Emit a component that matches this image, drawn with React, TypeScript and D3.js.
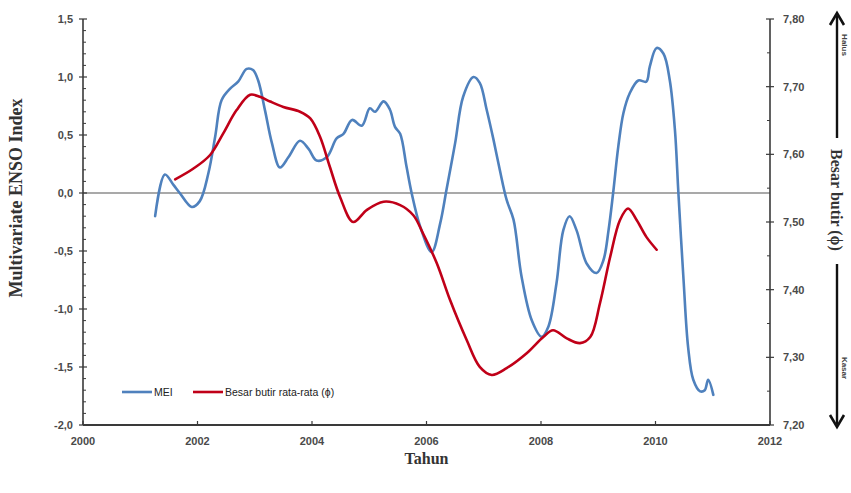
import React from "react";
import * as d3 from "d3";

// Multivariate ENSO Index (left axis)
const meiYears = [
  2001.26, 2001.43, 2001.58, 2001.69, 2001.9, 2002.04, 2002.19, 2002.31, 2002.42, 2002.57,
  2002.71, 2002.86, 2002.97, 2003.06, 2003.18, 2003.3, 2003.44, 2003.59, 2003.79, 2003.94,
  2004.08, 2004.26, 2004.43, 2004.55, 2004.7, 2004.87, 2005.01, 2005.1, 2005.25, 2005.36,
  2005.45, 2005.54, 2005.65, 2005.74, 2005.89, 2006.09, 2006.24, 2006.35, 2006.5, 2006.64,
  2006.82, 2006.93, 2007.05, 2007.17, 2007.28, 2007.4, 2007.52, 2007.66, 2007.84, 2008.01,
  2008.13, 2008.27, 2008.39, 2008.5, 2008.62, 2008.8, 2008.97, 2009.09, 2009.18, 2009.26,
  2009.35, 2009.44, 2009.55, 2009.7, 2009.84, 2009.9, 2010.02, 2010.14, 2010.25, 2010.34,
  2010.4, 2010.49, 2010.57, 2010.66, 2010.78, 2010.86, 2010.92, 2011.01,
];
const meiValues = [
  -0.2, 0.16, 0.07, 0.0, -0.12, -0.07, 0.17, 0.49, 0.8, 0.9,
  0.96, 1.07, 1.06, 0.97, 0.71, 0.43, 0.22, 0.31, 0.45, 0.38,
  0.28, 0.31, 0.47, 0.51, 0.63, 0.58, 0.73, 0.7, 0.79, 0.72,
  0.57, 0.51, 0.23, 0.0, -0.29, -0.51, -0.26, 0.03, 0.43, 0.83,
  1.0, 0.95, 0.72, 0.46, 0.2, -0.06, -0.23, -0.72, -1.1, -1.24,
  -1.15, -0.78, -0.32, -0.2, -0.32, -0.61, -0.69, -0.58, -0.32, 0.0,
  0.4, 0.69, 0.86, 0.97, 0.96, 1.09, 1.25, 1.2, 0.97, 0.54,
  0.0, -0.75, -1.33, -1.61, -1.71, -1.7, -1.61, -1.74,
];

// Mean grain size in phi units (right axis)
const grainYears = [
  2001.61, 2001.93, 2002.22, 2002.45, 2002.68, 2002.92, 2003.09, 2003.27, 2003.5, 2003.79,
  2003.97, 2004.14, 2004.31, 2004.49, 2004.72, 2004.96, 2005.25, 2005.54, 2005.77, 2005.94,
  2006.18, 2006.41, 2006.7, 2006.93, 2007.14, 2007.4, 2007.75, 2008.04, 2008.21, 2008.45,
  2008.68, 2008.86, 2009.03, 2009.21, 2009.38, 2009.52, 2009.67, 2009.84, 2010.02,
];
const grainValues = [
  7.563, 7.579, 7.599, 7.631, 7.665, 7.688, 7.685, 7.678, 7.67, 7.663,
  7.653, 7.626, 7.582, 7.537, 7.5, 7.518, 7.53, 7.525, 7.51, 7.483,
  7.439, 7.385, 7.326, 7.286, 7.274, 7.284, 7.306, 7.33, 7.34, 7.328,
  7.321, 7.33, 7.38, 7.449, 7.503, 7.52, 7.503, 7.478, 7.459,
];

const xTicks = [2000, 2002, 2004, 2006, 2008, 2010, 2012];
const leftTicks = [-2.0, -1.5, -1.0, -0.5, 0.0, 0.5, 1.0, 1.5];
const rightTicks = [7.2, 7.3, 7.4, 7.5, 7.6, 7.7, 7.8];

const W = 851;
const H = 493;
const plot = { left: 83, right: 770, top: 19, bottom: 425 };

const x = d3.scaleLinear().domain([2000, 2012]).range([plot.left, plot.right]);
const yL = d3.scaleLinear().domain([-2, 1.5]).range([plot.bottom, plot.top]);
const yR = d3.scaleLinear().domain([7.2, 7.8]).range([plot.bottom, plot.top]);

const comma = (f: string) => (v: number) => d3.format(f)(v).replace(".", ",").replace("−", "-");
const fmtL = comma(".1f");
const fmtR = comma(".2f");

const BLUE = "#4f81bd";
const RED = "#c00018";
const AXIS = "#3a3a3a";
const LABEL = "#4a4a4a";
const sans = "'Liberation Sans Narrow', 'Liberation Sans', Arial, sans-serif";
const serif = "'Liberation Serif', 'Times New Roman', serif";

export default function App() {
  const meiPts: [number, number][] = meiYears.map((t, i) => [x(t), yL(meiValues[i])]);
  const grainPts: [number, number][] = grainYears.map((t, i) => [x(t), yR(grainValues[i])]);
  const line = d3.line().curve(d3.curveCatmullRom.alpha(0.5));

  const leftMinor = d3.range(-20, 16).map((k) => k / 10).filter((v) => Math.abs(v * 2 - Math.round(v * 2)) > 1e-6);
  const rightMinor = d3.range(0, 6).map((k) => 7.25 + k * 0.1);

  const arrowX = 837;

  return (
    <div style={{ position: "absolute", left: 0, top: 0, width: W, height: H, background: "#fff" }}>
      <svg width={W} height={H} style={{ display: "block" }}>
        {/* zero reference line */}
        <line x1={plot.left} x2={plot.right} y1={yL(0)} y2={yL(0)} stroke="#8c8c8c" strokeWidth={1.6} />

        {/* series */}
        <path d={line(meiPts) || ""} fill="none" stroke={BLUE} strokeWidth={2.6} strokeLinejoin="round" strokeLinecap="round" />
        <path d={line(grainPts) || ""} fill="none" stroke={RED} strokeWidth={2.6} strokeLinejoin="round" strokeLinecap="round" />

        {/* left axis */}
        <line x1={plot.left} x2={plot.left} y1={plot.top} y2={plot.bottom} stroke={AXIS} strokeWidth={1.6} />
        {leftMinor.map((v) => (
          <line key={"lm" + v} x1={plot.left} x2={plot.left + 3} y1={yL(v)} y2={yL(v)} stroke={AXIS} strokeWidth={1} />
        ))}
        {leftTicks.map((v) => (
          <g key={"l" + v}>
            <line x1={plot.left - 4} x2={plot.left + 4} y1={yL(v)} y2={yL(v)} stroke={AXIS} strokeWidth={1.2} />
            <text x={plot.left - 10} y={yL(v)} dy="0.35em" textAnchor="end" fontFamily={sans} fontSize={11} fontWeight="bold" fill={LABEL}>
              {fmtL(v)}
            </text>
          </g>
        ))}

        {/* right axis */}
        <line x1={plot.right} x2={plot.right} y1={plot.top} y2={plot.bottom} stroke={AXIS} strokeWidth={1.6} />
        {rightMinor.map((v) => (
          <line key={"rm" + v} x1={plot.right - 3} x2={plot.right} y1={yR(v)} y2={yR(v)} stroke={AXIS} strokeWidth={1} />
        ))}
        {rightTicks.map((v) => (
          <g key={"r" + v}>
            <line x1={plot.right - 4} x2={plot.right + 4} y1={yR(v)} y2={yR(v)} stroke={AXIS} strokeWidth={1.2} />
            <text x={plot.right + 13} y={yR(v)} dy="0.35em" textAnchor="start" fontFamily={sans} fontSize={11} fontWeight="bold" fill={LABEL}>
              {fmtR(v)}
            </text>
          </g>
        ))}

        {/* bottom axis */}
        <line x1={plot.left} x2={plot.right} y1={plot.bottom} y2={plot.bottom} stroke={AXIS} strokeWidth={2} />
        {xTicks.map((t) => (
          <g key={"x" + t}>
            <line x1={x(t)} x2={x(t)} y1={plot.bottom - 4} y2={plot.bottom} stroke={AXIS} strokeWidth={1.2} />
            <text x={x(t)} y={plot.bottom + 20} textAnchor="middle" fontFamily={sans} fontSize={11} fontWeight="bold" fill={LABEL}>
              {t}
            </text>
          </g>
        ))}

        {/* axis titles */}
        <text
          transform={`translate(22, 198) rotate(-90)`}
          textAnchor="middle"
          fontFamily={serif}
          fontWeight="bold"
          fontSize={18}
          fill="#333"
        >
          Multivariate ENSO Index
        </text>
        <text x={(plot.left + plot.right) / 2} y={464} textAnchor="middle" fontFamily={serif} fontWeight="bold" fontSize={16} fill="#333">
          Tahun
        </text>
        <text
          transform={`translate(${arrowX - 6}, 200) rotate(90)`}
          textAnchor="middle"
          fontFamily={serif}
          fontWeight="bold"
          fontSize={16}
          fill="#333"
        >
          Besar butir (ϕ)
        </text>

        {/* grain-size direction arrows */}
        <line x1={arrowX} x2={arrowX} y1={16} y2={138} stroke="#111" strokeWidth={2.4} />
        <path d={`M${arrowX - 7},${25} L${arrowX},${13} L${arrowX + 7},${25}`} fill="none" stroke="#111" strokeWidth={2.6} strokeLinejoin="miter" />
        <line x1={arrowX} x2={arrowX} y1={264} y2={424} stroke="#111" strokeWidth={2.4} />
        <path d={`M${arrowX - 7},${415} L${arrowX},${427} L${arrowX + 7},${415}`} fill="none" stroke="#111" strokeWidth={2.6} strokeLinejoin="miter" />
        <text transform={`translate(842, 45) rotate(90)`} textAnchor="middle" fontFamily={sans} fontWeight="bold" fontSize={8} fill="#444">
          Halus
        </text>
        <text transform={`translate(842, 368) rotate(90)`} textAnchor="middle" fontFamily={sans} fontWeight="bold" fontSize={8} fill="#444">
          Kasar
        </text>

        {/* legend */}
        <line x1={122} x2={152} y1={392} y2={392} stroke={BLUE} strokeWidth={2.6} />
        <text x={154} y={392} dy="0.35em" fontFamily={sans} fontSize={10.5} fill="#222">
          MEI
        </text>
        <line x1={193} x2={223} y1={392} y2={392} stroke={RED} strokeWidth={2.6} />
        <text x={225} y={392} dy="0.35em" fontFamily={sans} fontSize={10.5} fill="#222">
          Besar butir rata-rata (ϕ)
        </text>
      </svg>
    </div>
  );
}
